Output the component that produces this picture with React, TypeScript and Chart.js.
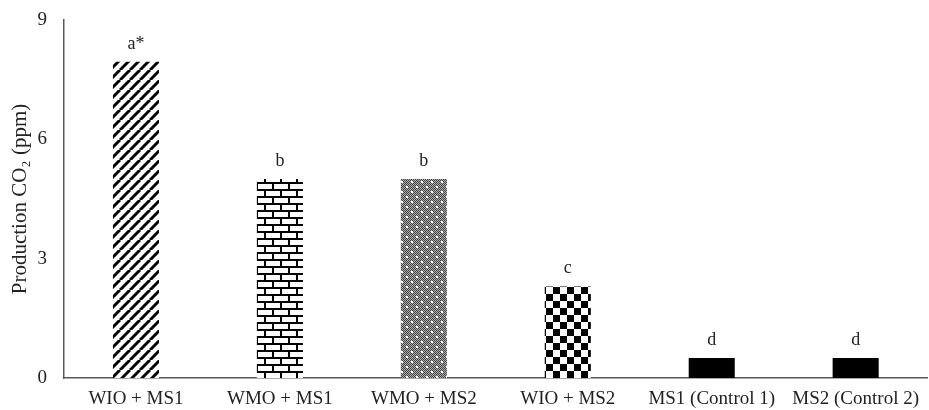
import React, { useEffect, useRef } from "react";
import { Chart, registerables } from "chart.js";

Chart.register(...registerables);

const categories = [
  "WIO + MS1",
  "WMO + MS1",
  "WMO + MS2",
  "WIO + MS2",
  "MS1 (Control 1)",
  "MS2 (Control 2)",
];
const values = [7.95, 5.0, 5.0, 2.3, 0.5, 0.5];
const letters = ["a*", "b", "b", "c", "d", "d"];
const yTicks = [0, 3, 6, 9];
const yTitle = "Production CO\u2082 (ppm)";

const FONT = "'Liberation Serif', 'Times New Roman', serif";

function makeTile(w: number, h: number, draw: (c: CanvasRenderingContext2D) => void): CanvasPattern {
  const cv = document.createElement("canvas");
  cv.width = w;
  cv.height = h;
  const c = cv.getContext("2d")!;
  draw(c);
  const main = document.createElement("canvas").getContext("2d")!;
  return main.createPattern(cv, "repeat") as CanvasPattern;
}

function stripes() {
  const s = 10;
  return makeTile(s, s, (c) => {
    c.fillStyle = "#ffffff";
    c.fillRect(0, 0, s, s);
    c.strokeStyle = "#000000";
    c.lineWidth = 3;
    for (const o of [-s, 0, s]) {
      c.beginPath();
      c.moveTo(o, s);
      c.lineTo(o + s, 0);
      c.stroke();
    }
  });
}

function bricks() {
  const w = 16;
  const h = 14;
  return makeTile(w, h, (c) => {
    c.fillStyle = "#ffffff";
    c.fillRect(0, 0, w, h);
    c.fillStyle = "#000000";
    c.fillRect(0, 0, w, 2);
    c.fillRect(0, 7, w, 2);
    c.fillRect(0, 0, 2, 7);
    c.fillRect(8, 7, 2, 7);
  });
}

function dotted() {
  const s = 10;
  return makeTile(s, s, (c) => {
    for (let y = 0; y < s; y++) {
      for (let x = 0; x < s; x++) {
        c.fillStyle = (x + y) % 2 === 0 ? "#404040" : "#b0b0b0";
        c.fillRect(x, y, 1, 1);
      }
    }
    c.fillStyle = "#ffffff";
    c.fillRect(1, 1, 2, 2);
    c.fillRect(6, 6, 2, 2);
  });
}

function checker() {
  const s = 14;
  return makeTile(s, s, (c) => {
    c.fillStyle = "#ffffff";
    c.fillRect(0, 0, s, s);
    c.fillStyle = "#000000";
    c.fillRect(0, 0, 7, 7);
    c.fillRect(7, 7, 7, 7);
  });
}

export default function App() {
  const ref = useRef<HTMLCanvasElement | null>(null);

  useEffect(() => {
    document.body.style.margin = "0";
    const canvas = ref.current!;
    const fills = [stripes(), bricks(), dotted(), checker(), "#000000", "#000000"];

    const letterPlugin = {
      id: "letters",
      afterDatasetsDraw(chart: any) {
        const ctx = chart.ctx;
        const meta = chart.getDatasetMeta(0);
        ctx.save();
        ctx.fillStyle = "#222222";
        ctx.font = `18px ${FONT}`;
        ctx.textAlign = "center";
        ctx.textBaseline = "middle";
        meta.data.forEach((bar: any, i: number) => {
          ctx.fillText(letters[i], bar.x, bar.y - 18);
        });
        ctx.restore();
      },
    };

    const chart = new Chart(canvas, {
      type: "bar",
      data: {
        labels: categories,
        datasets: [
          {
            data: values,
            backgroundColor: fills as any,
            borderWidth: 0,
            categoryPercentage: 1,
            barPercentage: 0.32,
          },
        ],
      },
      options: {
        animation: false,
        responsive: false,
        maintainAspectRatio: false,
        layout: { autoPadding: false, padding: { top: 20, right: 0, left: 0, bottom: 0 } },
        plugins: {
          legend: { display: false },
          tooltip: { enabled: false },
        },
        scales: {
          x: {
            grid: { display: false, drawTicks: false },
            border: { display: true, color: "#595959", width: 1.5 },
            ticks: {
              color: "#222222",
              font: { family: FONT, size: 19 },
              padding: 10,
              maxRotation: 0,
              autoSkip: false,
            },
            afterFit: (s: any) => {
              s.height = 32;
            },
          },
          y: {
            min: 0,
            max: 9,
            grid: { display: false, drawTicks: false },
            border: { display: true, color: "#595959", width: 1.5 },
            afterBuildTicks: (s: any) => {
              s.ticks = yTicks.map((v) => ({ value: v }));
            },
            ticks: {
              color: "#222222",
              font: { family: FONT, size: 19 },
              padding: 17,
            },
            title: {
              display: true,
              text: yTitle,
              color: "#222222",
              font: { family: FONT, size: 21 },
              padding: { top: 8, bottom: 0 },
            },
            afterFit: (s: any) => {
              s.width = 64;
              s.paddingTop = 0;
              s.paddingBottom = 0;
            },
          },
        },
      },
      plugins: [letterPlugin],
    });

    return () => chart.destroy();
  }, []);

  return (
    <div style={{ width: 929, height: 410, position: "relative", background: "#ffffff" }}>
      <canvas ref={ref} width={929} height={410} style={{ display: "block" }} />
    </div>
  );
}
